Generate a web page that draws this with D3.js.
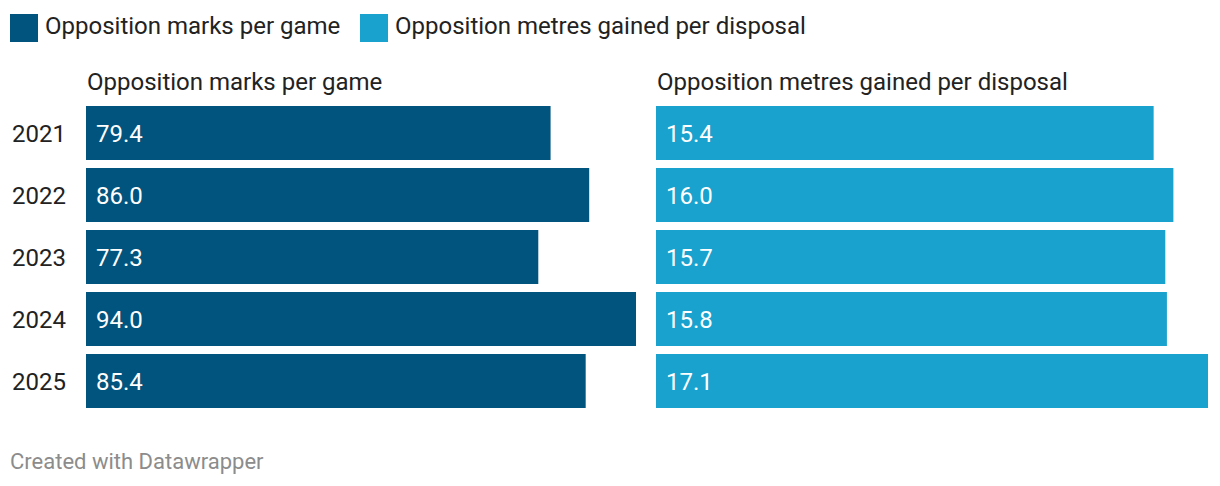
<!DOCTYPE html>
<html><head><meta charset="utf-8">
<script src="https://cdn.jsdelivr.net/npm/d3@7"></script>
<style>body{margin:0;background:#fff;font-family:Roboto,sans-serif}</style>
</head><body><svg id="c" width="1220" height="486"></svg>
<script>
const years = ["2021","2022","2023","2024","2025"];
const marks = [79.4, 86.0, 77.3, 94.0, 85.4];
const metres = [15.38, 15.99, 15.74, 15.79, 17.06];
const seriesNames = ["Opposition marks per game","Opposition metres gained per disposal"];
const colors = ["#01547d","#19a2ce"];

const svg = d3.select("#c");
const fs = 24;
// legend
const leg = svg.append("g");
const legX = [10, 360];
seriesNames.forEach((n,i)=>{
  leg.append("rect").attr("x",legX[i]).attr("y",14).attr("width",28).attr("height",28).attr("fill",colors[i]);
  leg.append("text").attr("x",legX[i]+35).attr("y",34).attr("font-size",fs).attr("fill","#222").text(n);
});

const y = d3.scaleBand().domain(years).range([106, 408]).paddingInner(8/62).paddingOuter(0).align(0);
// year labels
svg.selectAll(".yl").data(years).join("text")
  .attr("x",12).attr("y",d=>y(d)+y.bandwidth()/2+9)
  .attr("font-size",fs).attr("fill","#222").text(d=>d);

const panels = [
  {vals: marks, x0: 86, x1: 636, color: colors[0], title: seriesNames[0]},
  {vals: metres, x0: 656, x1: 1208, color: colors[1], title: seriesNames[1]}
];
panels.forEach(p=>{
  const x = d3.scaleLinear().domain([0,d3.max(p.vals)]).range([p.x0,p.x1]);
  const g = svg.append("g");
  g.append("text").attr("x",p.x0+1).attr("y",90).attr("font-size",fs).attr("fill","#222").text(p.title);
  g.selectAll("rect").data(p.vals).join("rect")
    .attr("x",x(0)).attr("y",(d,i)=>y(years[i]))
    .attr("width",d=>x(d)-x(0)).attr("height",y.bandwidth()).attr("fill",p.color);
  g.selectAll(".v").data(p.vals).join("text")
    .attr("x",x(0)+10).attr("y",(d,i)=>y(years[i])+y.bandwidth()/2+9)
    .attr("font-size",fs).attr("fill","#fff").text(d=>d.toFixed(1));
});

svg.append("text").attr("x",10).attr("y",469).attr("font-size",22).attr("fill","#8c8c8c").text("Created with Datawrapper");
</script></body></html>
